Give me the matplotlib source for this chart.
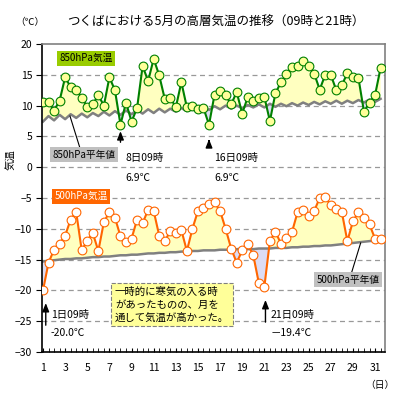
import matplotlib
matplotlib.use("Agg")
import matplotlib.pyplot as plt
import numpy as np

plt.rcParams['font.family'] = ['Noto Sans CJK JP', 'DejaVu Sans']

# days of May, each with a 09h and a 21h observation
days = list(range(1, 32))
x_ticks = list(range(1, 32, 2))

# 850hPa temperature, 09h/21h alternating (day 1 09h first)
t850 = [10.6, 10.6, 9.2, 10.8, 14.6, 13.0, 12.6, 11.3, 9.8, 10.2,
        11.7, 10.0, 14.6, 12.5, 6.9, 10.5, 7.4, 9.6, 16.4, 14.0,
        17.6, 14.9, 11.1, 11.3, 9.7, 13.8, 9.7, 10.0, 9.5, 9.6,
        6.9, 11.8, 12.3, 11.7, 10.2, 12.2, 8.7, 11.4, 10.8, 11.2,
        11.4, 7.5, 12.0, 13.8, 15.1, 16.3, 16.4, 17.2, 16.4, 15.2,
        12.6, 15.0, 15.0, 12.5, 13.3, 15.3, 14.6, 14.5, 9.0, 10.5,
        11.7, 16.1]

# 500hPa temperature, same order
t500 = [-20.0, -15.5, -13.4, -12.4, -11.1, -8.5, -7.3, -13.5, -11.9, -10.7,
        -13.6, -8.9, -7.3, -8.2, -11.2, -12.2, -11.6, -8.5, -9.1, -6.9,
        -7.1, -11.1, -12.0, -10.4, -10.7, -10.2, -13.6, -10.0, -7.1, -6.6,
        -6.0, -5.7, -7.1, -10.0, -13.2, -15.5, -13.5, -12.5, -14.3, -18.8,
        -19.4, -12.0, -10.5, -12.4, -11.5, -10.5, -7.3, -7.0, -7.9, -7.1,
        -5.0, -4.8, -6.2, -6.8, -7.3, -12.0, -8.8, -7.3, -8.2, -9.3,
        -11.6, -11.7]

# normals (平年値) per day
n850_09 = [7.4, 7.6, 7.8, 8.0, 8.1, 8.3, 8.4, 8.5, 8.6, 8.7, 8.8, 8.9, 9.0, 9.1, 9.2, 9.3,
           9.4, 9.5, 9.6, 9.7, 9.7, 9.8, 9.9, 10.0, 10.1, 10.2, 10.3, 10.3, 10.4, 10.5, 10.6]
n850_21 = [8.3, 8.5, 8.6, 8.7, 8.8, 9.0, 9.1, 9.2, 9.3, 9.4, 9.5, 9.5, 9.6, 9.7, 9.8, 9.9,
           10.0, 10.0, 10.1, 10.2, 10.3, 10.3, 10.4, 10.5, 10.6, 10.7, 10.8, 10.8, 10.9, 11.0, 11.1]
n500_09 = [-15.3, -15.1, -14.9, -14.8, -14.7, -14.6, -14.5, -14.3, -14.2, -14.1, -14.0, -13.9,
           -13.8, -13.7, -13.6, -13.5, -13.4, -13.4, -13.3, -13.3, -13.2, -13.1, -13.1, -13.0,
           -12.9, -12.8, -12.7, -12.5, -12.3, -12.1, -11.9]
n500_21 = [-15.2, -15.0, -14.9, -14.8, -14.6, -14.5, -14.4, -14.3, -14.2, -14.0, -13.9, -13.8,
           -13.7, -13.6, -13.5, -13.5, -13.4, -13.3, -13.3, -13.2, -13.2, -13.1, -13.0, -12.9,
           -12.8, -12.7, -12.6, -12.4, -12.2, -12.0, -11.8]

x = np.repeat(days, 2) + np.tile([0.0, 0.5], len(days))
t850 = np.array(t850)
t500 = np.array(t500)
n850 = np.column_stack([n850_09, n850_21]).ravel()
n500 = np.column_stack([n500_09, n500_21]).ravel()

warm = '#FFFFC0'
cold = '#DCDCF4'
gray = '#808080'

fig = plt.figure(figsize=(4, 4), dpi=100)
ax = fig.add_axes([0.105, 0.12, 0.8575, 0.77])

for yv in range(-25, 20, 5):
    ax.axhline(yv, color='#999999', lw=0.9, ls=(0, (4, 3)), zorder=0)

for t, n in ((t850, n850), (t500, n500)):
    ax.fill_between(x, t, n, where=t >= n, interpolate=True, color=warm, lw=0, zorder=1)
    ax.fill_between(x, t, n, where=t < n, interpolate=True, color=cold, lw=0, zorder=1)

ax.plot(x, n850, color=gray, lw=1.8, zorder=2)
ax.plot(x, n500, color=gray, lw=1.8, zorder=2)

ax.plot(x, t850, color='#008000', lw=1.5, marker='o', ms=6.3, mfc='#FFFF99',
        mec='#008000', mew=0.8, zorder=3)
ax.plot(x, t500, color='#FF6600', lw=1.5, marker='o', ms=6.3, mfc='white',
        mec='#FF6600', mew=0.8, zorder=3)

ax.set_xlim(0.91, 31.9)
ax.set_ylim(-30, 20)
ax.set_yticks(range(-30, 21, 5))
ax.set_xticks(x_ticks)
ax.set_xticks(np.arange(1, 32, 0.5), minor=True)
ax.tick_params(axis='y', direction='out', length=4, labelsize=7.5, pad=3)
ax.tick_params(axis='x', which='both', direction='in', length=3, labelsize=7.5, pad=8)
for s in ('top', 'right'):
    ax.spines[s].set_color(gray)
    ax.spines[s].set_linewidth(1.2)
for s in ('left', 'bottom'):
    ax.spines[s].set_color('black')
    ax.spines[s].set_linewidth(1.2)

# labels for series
lab = dict(fontsize=7, ha='center', va='center', zorder=6)
ax.text(4.9, 17.7, '850hPa気温', bbox=dict(boxstyle='square,pad=0.25', fc='#99CC00', ec='none'), **lab)
ax.text(4.45, -4.7, '500hPa気温', color='white',
        bbox=dict(boxstyle='square,pad=0.25', fc='#FF6600', ec='none'), **lab)
ax.text(4.7, 2.0, '850hPa平年値', bbox=dict(boxstyle='square,pad=0.25', fc='#C0C0C0', ec='none'), **lab)
ax.text(28.55, -18.3, '500hPa平年値', bbox=dict(boxstyle='square,pad=0.25', fc='#C0C0C0', ec='none'), **lab)
ax.plot([3.44, 4.34], [8.3, 3.1], color='black', lw=0.8, zorder=5)
ax.plot([29.7, 28.9], [-12.3, -17.0], color='black', lw=0.8, zorder=5)

# arrows with low values
arr = dict(arrowstyle='-|>,head_length=0.5,head_width=0.2', color='black', lw=1.0)
notes = [(8.0, 3.6, 6.3, '8日09時', '6.9℃', 1.5, -1.8),
         (16.0, 3.6, 5.0, '16日09時', '6.9℃', 1.5, -1.8),
         (1.25, -26.1, -21.6, '1日09時', '-20.0℃', -24.0, -26.9),
         (21.1, -25.6, -21.1, '21日09時', '－19.4℃', -24.0, -26.9)]
for xd, y0, y1, s1, s2, ya, yb in notes:
    ax.annotate('', xy=(xd, y1), xytext=(xd, y0), arrowprops=arr, zorder=5)
    ax.text(xd + 0.45, ya, s1, fontsize=7.5, va='center', zorder=5)
    ax.text(xd + 0.45, yb, s2, fontsize=7.5, va='center', zorder=5)

ax.text(7.5, -19.4, '一時的に寒気の入る時\nがあったものの、月を\n通して気温が高かった。',
        fontsize=7.5, va='top', ha='left', linespacing=1.35, zorder=6,
        bbox=dict(boxstyle='square,pad=0.35', fc='#FFFF99', ec=gray, ls='--', lw=0.8))

fig.text(0.54, 0.945, 'つくばにおける5月の高層気温の推移（09時と21時）', fontsize=9,
         ha='center', va='center')
fig.text(0.075, 0.945, '（℃）', fontsize=7, ha='center', va='center')
fig.text(0.95, 0.038, '（日）', fontsize=7, ha='center', va='center')
fig.text(0.028, 0.6, '気温', fontsize=7.5, rotation=90, ha='center', va='center')

fig.savefig('out.png', dpi=100)
